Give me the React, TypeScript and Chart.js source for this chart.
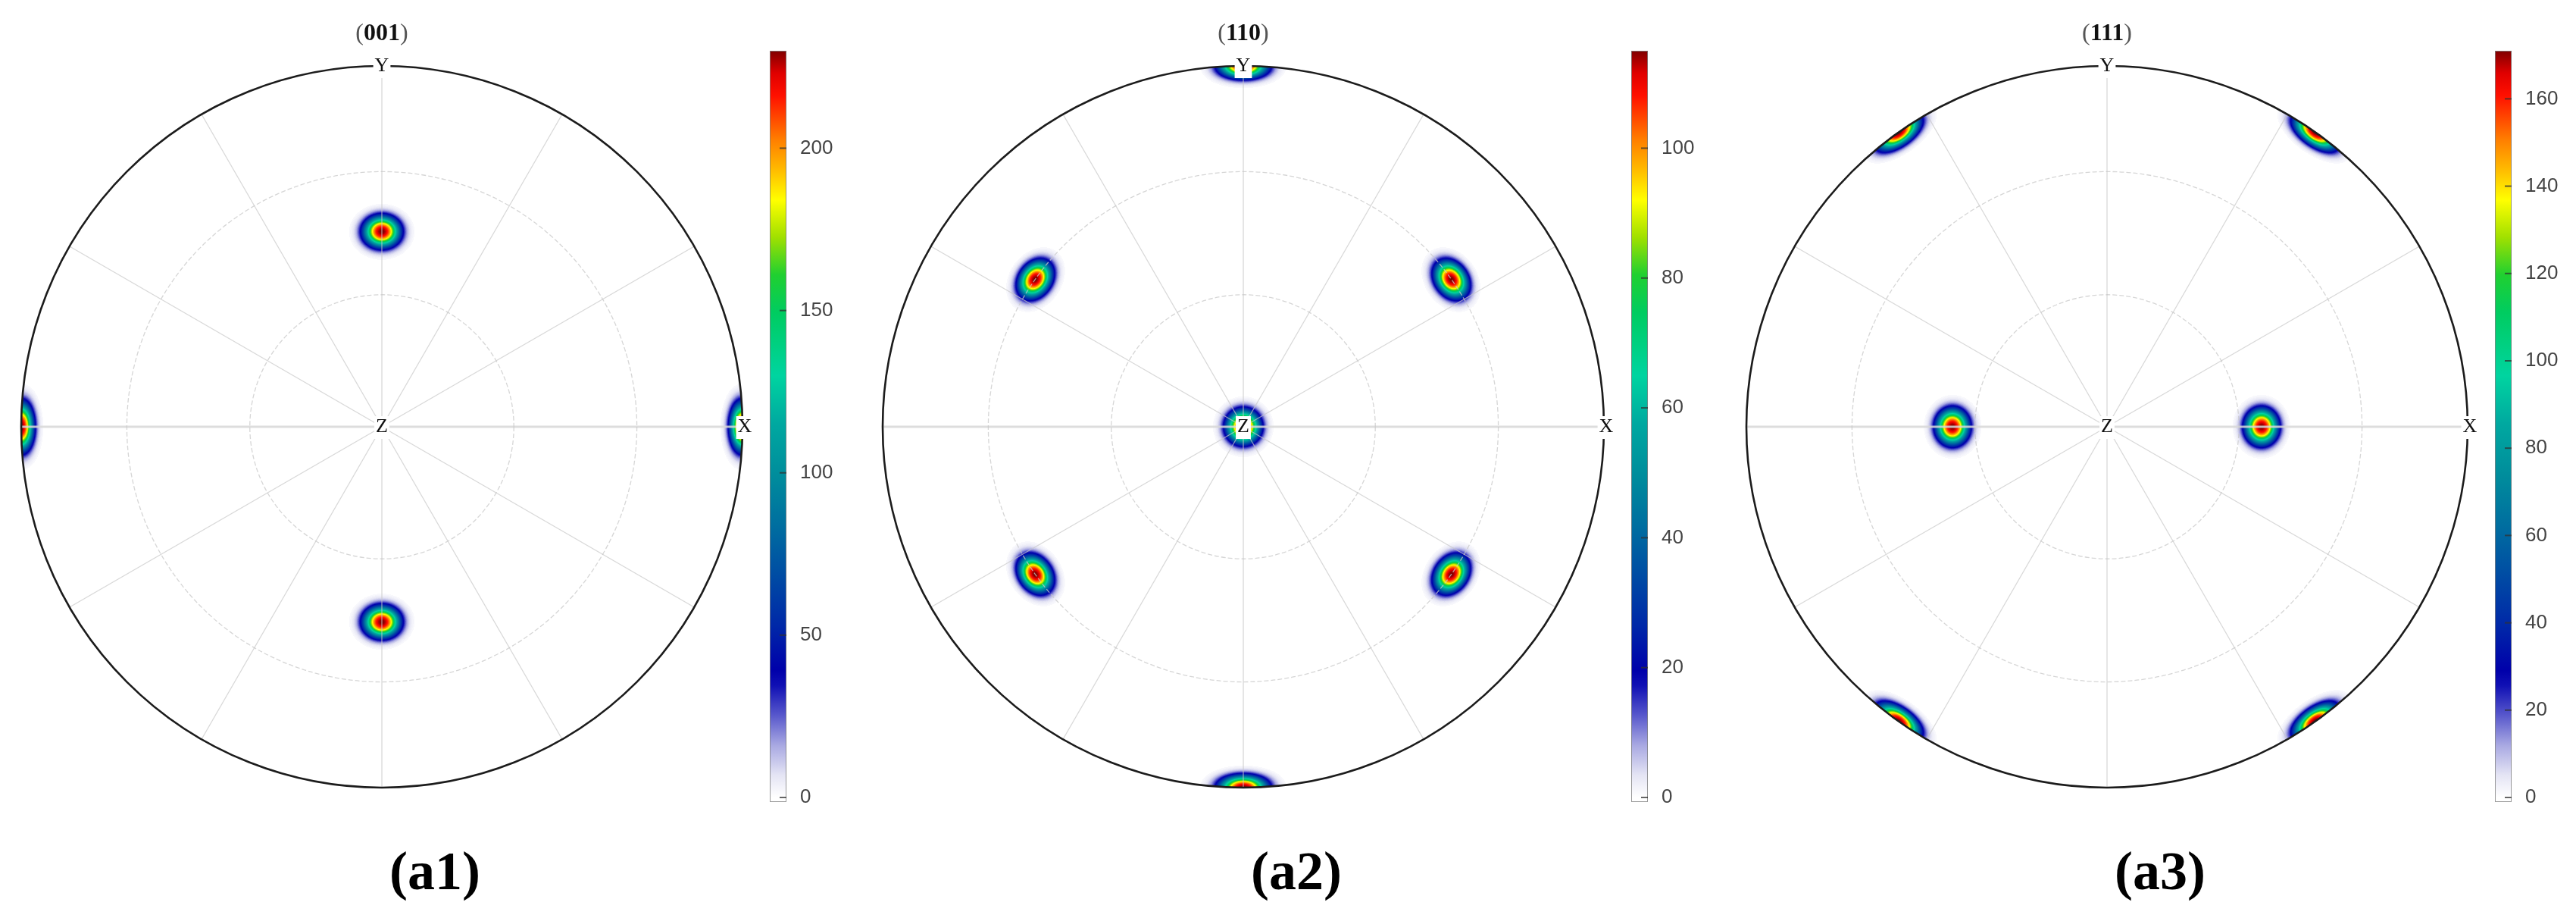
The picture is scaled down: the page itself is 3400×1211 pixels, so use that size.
import React, { useEffect, useRef } from 'react';
import { Chart, registerables } from 'chart.js';

Chart.register(...registerables);

// ---------------- data ----------------
const PANEL_TITLES = ['001', '110', '111'];
const PANEL_CAPTIONS = ['a1', 'a2', 'a3'];

// pole positions: polar angle from Z (deg) and azimuth from X (deg)
const POLAR_001 = [90, 90, 45, 45];
const AZIMUTH_001 = [0, 180, 90, 270];
const PEAK_001 = [230, 230, 230, 230];

const POLAR_110 = [0, 90, 90, 60, 60, 60, 60];
const AZIMUTH_110 = [0, 90, 270, 35.3, 144.7, 215.3, 324.7];
const PEAK_110 = [115, 115, 115, 115, 115, 115, 115];

const POLAR_111 = [35.3, 35.3, 90, 90, 90, 90];
const AZIMUTH_111 = [0, 180, 54.7, 125.3, 234.7, 305.3];
const PEAK_111 = [171, 171, 171, 171, 171, 171];

const COLORBAR_MAX = [230, 115, 171];
const TICKS_001 = [0, 50, 100, 150, 200];
const TICKS_110 = [0, 20, 40, 60, 80, 100];
const TICKS_111 = [0, 20, 40, 60, 80, 100, 120, 140, 160];

const GRID_POLAR = [30, 60];
const GRID_AZIMUTH = [0, 30, 60, 90, 120, 150, 180, 210, 240, 270, 300, 330];

const POLE_POLAR = [POLAR_001, POLAR_110, POLAR_111];
const POLE_AZIMUTH = [AZIMUTH_001, AZIMUTH_110, AZIMUTH_111];
const POLE_PEAK = [PEAK_001, PEAK_110, PEAK_111];
const COLORBAR_TICKS = [TICKS_001, TICKS_110, TICKS_111];

// ---------------- styles / layout ----------------
const COLOR_STOPS: [number, string][] = [
  [0.0, '#ffffff'],
  [0.03, '#e4e4f4'],
  [0.07, '#a8a8e2'],
  [0.11, '#5858cc'],
  [0.15, '#1010b4'],
  [0.17, '#0000aa'],
  [0.23, '#0028a8'],
  [0.29, '#0048a4'],
  [0.36, '#006ca0'],
  [0.43, '#008c9c'],
  [0.5, '#00a8a0'],
  [0.565, '#00d4a0'],
  [0.65, '#00cc60'],
  [0.7, '#20d030'],
  [0.75, '#a0e000'],
  [0.8, '#ffff00'],
  [0.845, '#ffb400'],
  [0.88, '#ff8000'],
  [0.94, '#ff1000'],
  [0.97, '#e00000'],
  [1.0, '#800000'],
];

const CENTER_X = [503.5, 1641, 2781];
const CENTER_Y = 563;
const RADIUS_PX = 476;
const HALF_W = 500;
const KERNEL_WIDTH = 0.062;
const KERNEL_SHAPE = 2.5;

function hexToRgb(h: string): number[] {
  const n = parseInt(h.slice(1), 16);
  return [(n >> 16) & 255, (n >> 8) & 255, n & 255];
}

function buildLut(): Uint8ClampedArray {
  const lut = new Uint8ClampedArray(256 * 3);
  const stops = COLOR_STOPS.map(([t, c]) => [t, hexToRgb(c)] as [number, number[]]);
  for (let i = 0; i < 256; i++) {
    const t = i / 255;
    let k = 0;
    while (k < stops.length - 2 && t > stops[k + 1][0]) k++;
    const [t0, c0] = stops[k];
    const [t1, c1] = stops[k + 1];
    const f = Math.max(0, Math.min(1, (t - t0) / (t1 - t0)));
    for (let ch = 0; ch < 3; ch++) lut[i * 3 + ch] = c0[ch] + (c1[ch] - c0[ch]) * f;
  }
  return lut;
}
const LUT = buildLut();

function project(polarDeg: number, azDeg: number) {
  const t = (polarDeg * Math.PI) / 180;
  const f = (azDeg * Math.PI) / 180;
  const r = Math.SQRT2 * Math.sin(t / 2);
  return { x: r * Math.cos(f), y: r * Math.sin(f) };
}

function makePolePlugin(index: number) {
  return {
    id: 'poleFigure' + index,
    beforeDatasetsDraw(chart: any) {
      const ctx: CanvasRenderingContext2D = chart.ctx;
      const xs = chart.scales.x;
      const ys = chart.scales.y;
      const { left, top, right, bottom } = chart.chartArea;
      const w = Math.round(right - left);
      const h = Math.round(bottom - top);
      const max = COLORBAR_MAX[index];

      // ---- density map ----
      const poles = POLE_POLAR[index].map((th, k) => {
        const t = (th * Math.PI) / 180;
        const f = (POLE_AZIMUTH[index][k] * Math.PI) / 180;
        return [Math.sin(t) * Math.cos(f), Math.sin(t) * Math.sin(f), Math.cos(t), POLE_PEAK[index][k]];
      });
      const vx = new Float64Array(w);
      const vy = new Float64Array(h);
      for (let i = 0; i < w; i++) vx[i] = xs.getValueForPixel(left + i + 0.5);
      for (let j = 0; j < h; j++) vy[j] = ys.getValueForPixel(top + j + 0.5);
      const off = document.createElement('canvas');
      off.width = w;
      off.height = h;
      const octx = off.getContext('2d')!;
      const img = octx.createImageData(w, h);
      const data = img.data;
      for (let j = 0; j < h; j++) {
        const py = vy[j];
        for (let i = 0; i < w; i++) {
          const px = vx[i];
          const r2 = px * px + py * py;
          if (r2 > 1) continue;
          const kf = Math.sqrt(2 - r2);
          const X = px * kf;
          const Y = py * kf;
          const Z = 1 - r2;
          let sum = 0;
          for (let p = 0; p < poles.length; p++) {
            const q = poles[p];
            const c = X * q[0] + Y * q[1] + Z * q[2];
            if (c < 0.95) continue;
            const d = Math.acos(Math.min(1, c));
            sum += q[3] * Math.exp(-Math.pow(d / KERNEL_WIDTH, KERNEL_SHAPE));
          }
          const t = sum / max;
          if (t < 0.006) continue;
          const li = Math.min(255, Math.round(t * 255)) * 3;
          const o = (j * w + i) * 4;
          data[o] = LUT[li];
          data[o + 1] = LUT[li + 1];
          data[o + 2] = LUT[li + 2];
          data[o + 3] = 255;
        }
      }
      octx.putImageData(img, 0, 0);
      ctx.drawImage(off, left, top);

      const cx = xs.getPixelForValue(0);
      const cy = ys.getPixelForValue(0);
      const unit = xs.getPixelForValue(1) - cx;

      // ---- grid: radial lines ----
      ctx.save();
      GRID_AZIMUTH.forEach((az) => {
        const e = project(90, az);
        const horizontal = az % 180 === 0;
        ctx.beginPath();
        ctx.strokeStyle = horizontal ? 'rgba(215,215,215,0.85)' : 'rgba(200,200,200,0.7)';
        ctx.lineWidth = horizontal ? 3 : 1.3;
        ctx.moveTo(cx, cy);
        ctx.lineTo(xs.getPixelForValue(e.x), ys.getPixelForValue(e.y));
        ctx.stroke();
      });
      // ---- grid: circles ----
      ctx.setLineDash([6, 3]);
      ctx.strokeStyle = 'rgba(200,200,200,0.75)';
      ctx.lineWidth = 1.3;
      GRID_POLAR.forEach((pol) => {
        const e = project(pol, 0);
        const rr = xs.getPixelForValue(e.x) - cx;
        ctx.beginPath();
        ctx.arc(cx, cy, rr, 0, Math.PI * 2);
        ctx.stroke();
      });
      ctx.setLineDash([]);
      // ---- outer circle ----
      ctx.beginPath();
      ctx.strokeStyle = '#1c1c1c';
      ctx.lineWidth = 2.6;
      ctx.arc(cx, cy, unit, 0, Math.PI * 2);
      ctx.stroke();

      // ---- axis labels ----
      ctx.font = '26px "Liberation Serif"';
      ctx.textAlign = 'center';
      ctx.textBaseline = 'alphabetic';
      const labels: [string, number, number, number][] = [
        ['X', 90, 0, 3],
        ['Y', 90, 90, 0],
        ['Z', 0, 0, 0],
      ];
      labels.forEach(([txt, pol, az, dx]) => {
        const e = project(pol, az);
        const lx = xs.getPixelForValue(e.x) + dx;
        const ly = ys.getPixelForValue(e.y);
        const tw = ctx.measureText(txt).width;
        ctx.fillStyle = '#ffffff';
        ctx.fillRect(lx - tw / 2 - 2, ly + 1 - 15, tw + 4, 30);
        ctx.fillStyle = '#111111';
        ctx.fillText(txt, lx, ly + 7);
      });

      // ---- title ----
      const title = PANEL_TITLES[index];
      const parenFont = '32px "Liberation Serif"';
      const digitFont = 'bold 32px "Liberation Serif"';
      ctx.font = parenFont;
      const pw = ctx.measureText('(').width;
      ctx.font = digitFont;
      const dw = ctx.measureText(title).width;
      const total = pw * 2 + dw;
      const x0 = cx - total / 2;
      const base = 53;
      ctx.textAlign = 'left';
      ctx.font = parenFont;
      ctx.fillStyle = '#555555';
      ctx.fillText('(', x0, base);
      ctx.font = digitFont;
      ctx.fillStyle = '#111111';
      ctx.fillText(title, x0 + pw, base);
      ctx.font = parenFont;
      ctx.fillStyle = '#555555';
      ctx.fillText(')', x0 + pw + dw, base);

      // ---- caption ----
      ctx.font = 'bold 72px "Liberation Serif"';
      ctx.textAlign = 'center';
      ctx.fillStyle = '#000000';
      ctx.fillText('(' + PANEL_CAPTIONS[index] + ')', cx + 70, 1173);
      ctx.restore();
    },
  };
}

function makeColorbarPlugin(index: number) {
  return {
    id: 'colorbar' + index,
    beforeDatasetsDraw(chart: any) {
      const ctx: CanvasRenderingContext2D = chart.ctx;
      const ys = chart.scales.y;
      const { left, right } = chart.chartArea;
      const y0 = ys.getPixelForValue(0);
      const y1 = ys.getPixelForValue(COLORBAR_MAX[index]);
      const g = ctx.createLinearGradient(0, y0, 0, y1);
      COLOR_STOPS.forEach(([t, c]) => g.addColorStop(t, c));
      ctx.save();
      ctx.fillStyle = COLOR_STOPS[0][1];
      ctx.fillRect(left, y0, right - left, 6);
      ctx.fillStyle = g;
      ctx.fillRect(left, y1, right - left, y0 - y1);
      ctx.strokeStyle = 'rgba(130,130,130,0.8)';
      ctx.lineWidth = 1;
      ctx.strokeRect(left + 0.5, y1 + 0.5, right - left - 1, y0 - y1 + 5);
      ctx.strokeStyle = 'rgba(50,50,50,0.75)';
      ctx.lineWidth = 2;
      COLORBAR_TICKS[index].forEach((v) => {
        const y = ys.getPixelForValue(v);
        ctx.beginPath();
        ctx.moveTo(right - 9, y);
        ctx.lineTo(right, y);
        ctx.stroke();
      });
      ctx.restore();
    },
  };
}

function Panel({ index }: { index: number }) {
  const poleRef = useRef<HTMLCanvasElement>(null);
  const cbRef = useRef<HTMLCanvasElement>(null);

  useEffect(() => {
    const lim = HALF_W / RADIUS_PX;
    const points = POLE_POLAR[index].map((th, k) => project(th, POLE_AZIMUTH[index][k]));
    const pole = new Chart(poleRef.current!, {
      type: 'scatter',
      data: { datasets: [{ data: points, pointRadius: 0, pointHoverRadius: 0 }] },
      options: {
        animation: false,
        responsive: false,
        maintainAspectRatio: false,
        events: [],
        layout: { padding: { top: CENTER_Y - HALF_W, bottom: 1211 - CENTER_Y - HALF_W, left: 0, right: 0 } },
        plugins: { legend: { display: false }, tooltip: { enabled: false } },
        scales: {
          x: { type: 'linear', min: -lim, max: lim, display: false },
          y: { type: 'linear', min: -lim, max: lim, display: false },
        },
      },
      plugins: [makePolePlugin(index)],
    } as any);

    const cb = new Chart(cbRef.current!, {
      type: 'scatter',
      data: { datasets: [] },
      options: {
        animation: false,
        responsive: false,
        maintainAspectRatio: false,
        events: [],
        layout: { padding: { top: 67, bottom: 1211 - 1052, left: 0, right: 0 } },
        plugins: { legend: { display: false }, tooltip: { enabled: false } },
        scales: {
          x: { type: 'linear', min: 0, max: 1, display: false },
          y: {
            type: 'linear',
            position: 'right',
            min: 0,
            max: COLORBAR_MAX[index],
            grid: { display: false },
            border: { display: false },
            ticks: {
              font: { family: '"Liberation Sans"', size: 26 },
              color: '#444444',
              padding: 10,
            },
            afterBuildTicks: (s: any) => {
              s.ticks = COLORBAR_TICKS[index].map((v) => ({ value: v }));
            },
            afterFit: (s: any) => {
              s.width = 78;
            },
          },
        },
      },
      plugins: [makeColorbarPlugin(index)],
    } as any);

    return () => {
      pole.destroy();
      cb.destroy();
    };
  }, [index]);

  return (
    <>
      <canvas
        ref={poleRef}
        width={1000}
        height={1211}
        style={{ position: 'absolute', left: CENTER_X[index] - HALF_W, top: 0, width: 1000, height: 1211 }}
      />
      <canvas
        ref={cbRef}
        width={100}
        height={1211}
        style={{ position: 'absolute', left: CENTER_X[index] + 512, top: 0, width: 100, height: 1211 }}
      />
    </>
  );
}

export default function App() {
  return (
    <div style={{ position: 'absolute', left: 0, top: 0, width: 3400, height: 1211, background: '#ffffff', overflow: 'hidden' }}>
      {PANEL_TITLES.map((_, i) => (
        <Panel key={i} index={i} />
      ))}
    </div>
  );
}
